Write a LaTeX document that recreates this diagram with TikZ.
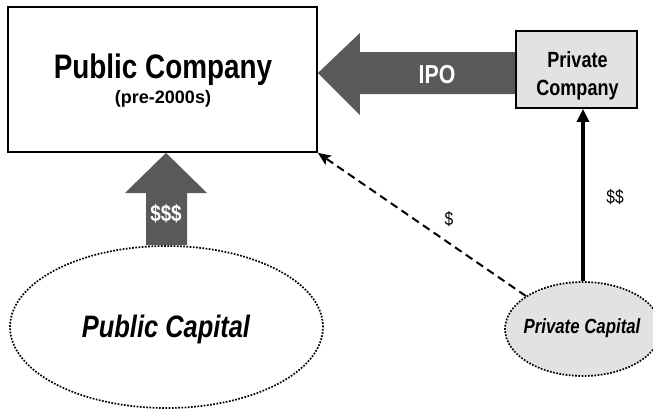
\documentclass[tikz,border=0pt]{standalone}
\usepackage{fontspec}
\setmainfont{Liberation Sans}
\newfontfamily\narrowsans[FakeStretch=0.82]{Liberation Sans}
\usetikzlibrary{arrows.meta,shapes.geometric,calc}

\definecolor{arrowgray}{HTML}{595959}
\definecolor{boxgray}{HTML}{E2E2E2}

\begin{document}
\begin{tikzpicture}[x=1pt,y=-1pt,
  frame/.style={draw,line width=1.8pt,inner sep=0pt},
  blockarrow/.style={fill=arrowgray,draw=none},
  fundpool/.style={ellipse,draw,line width=1.7pt,dash pattern=on 1.7pt off 1.5pt,inner sep=0pt},
  solidflow/.style={line width=3.4pt,-{Triangle[length=13pt,width=12pt]}},
  dashflow/.style={line width=2pt,dash pattern=on 8pt off 5pt,-{Stealth[length=13pt,width=11pt,inset=3pt]}},
  title/.style={anchor=base,font=\narrowsans\bfseries\fontsize{34}{40}\selectfont},
  subtitle/.style={anchor=base,font=\bfseries\fontsize{18}{22}\selectfont},
  boxtext/.style={anchor=base,font=\narrowsans\bfseries\fontsize{22}{26}\selectfont},
  arrowtext/.style={anchor=base,text=white,font=\narrowsans\bfseries\fontsize{#1}{30}\selectfont},
  pooltext/.style={anchor=base,font=\narrowsans\bfseries\itshape\fontsize{#1}{36}\selectfont},
  flowlabel/.style={font=\narrowsans\fontsize{19}{22}\selectfont}]

\path[use as bounding box] (0,0) rectangle (653,410);

% boxes and capital pools
\node[frame,minimum width=309pt,minimum height=145pt] (pub) at (162.5,79.5) {};
\node[frame,fill=boxgray,minimum width=121pt,minimum height=77pt] (priv) at (576.5,69.5) {};
\node[fundpool,minimum width=313pt,minimum height=162pt] (pubcap) at (166.5,327) {};
\node[fundpool,fill=boxgray,minimum width=156pt,minimum height=94pt] (privcap) at (583,329) {};

% IPO block arrow, from the private company to the public company
\coordinate (ipoAxis) at (0,73);
\coordinate (ipoTip) at (pub.east |- ipoAxis);
\fill[blockarrow] (ipoTip) -- ++(42,-40) -- ++(0,19) -- (priv.west |- 0,52)
  -- (priv.west |- 0,94) -- ($(ipoTip)+(42,21)$) -- ++(0,21) -- cycle;

% public capital block arrow
\fill[blockarrow] (166,0 |- pub.south) -- (207,193) -- (187,193)
  -- (187,0 |- pubcap.north) -- (146,0 |- pubcap.north) -- (146,193) -- (125,193) -- cycle;

% private capital flows
\draw[solidflow] (privcap.north) -- (priv.south -| privcap.north);
\draw[dashflow] (privcap.150) -- (pub.south east);

% texts
\node[title] (pubname) at (163,78) {Public Company};
\node[subtitle] (pubera) at (163,103) {(pre-2000s)};
\node[boxtext] (privname1) at (577.5,67) {Private};
\node[boxtext] (privname2) at (577.5,95) {Company};
\node[arrowtext=26] (ipolabel) at (437,83) {IPO};
\node[arrowtext=23] (publicflow) at (166,221) {\$\$\$};
\node[pooltext=31] (pubcapname) at (166,337) {Public Capital};
\node[pooltext=20.5] (privcapname) at (582,333) {Private Capital};
\node[flowlabel] (smallflow) at (449,219) {\$};
\node[flowlabel] (midflow) at (615,197) {\$\$};

\end{tikzpicture}
\end{document}
